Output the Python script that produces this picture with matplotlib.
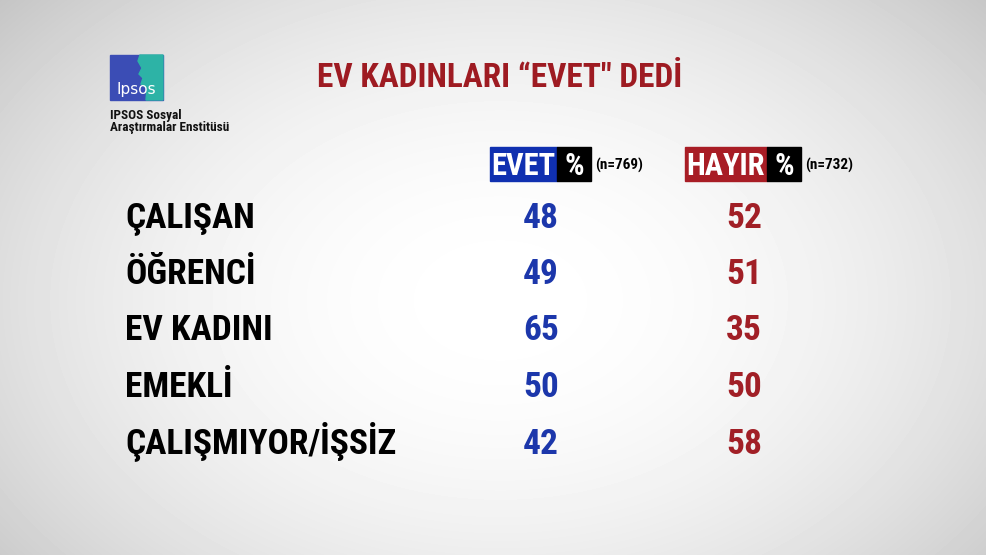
import numpy as np
import matplotlib
matplotlib.use("Agg")
import matplotlib.pyplot as plt
from matplotlib import font_manager as fm
from matplotlib.patches import Rectangle, Polygon

# ---- data ---------------------------------------------------------------
title      = "EV KADINLARI “EVET\" DEDİ"
categories = ["ÇALIŞAN", "ÖĞRENCİ", "EV KADINI", "EMEKLİ", "ÇALIŞMIYOR/İŞSİZ"]
evet       = [48, 49, 65, 50, 42]
hayir      = [52, 51, 35, 50, 58]
col_heads  = ["EVET", "HAYIR"]
col_n      = ["(n=769)", "(n=732)"]
logo_lines = ["IPSOS Sosyal", "Araştırmalar Enstitüsü"]

# ---- style --------------------------------------------------------------
names = set(fm.get_font_names())
FONT = next((f for f in ["Roboto Condensed", "Barlow Condensed",
                         "Archivo Narrow", "Liberation Sans Narrow"]
             if f in names), "DejaVu Sans")
FT = dict(family=[FONT, "DejaVu Sans"], fontweight="bold")

BLUE, RED   = "#1c37ab", "#a11f26"
BOX_BLUE    = "#1030b0"
BOX_RED     = "#a81d25"
TITLE_RED   = "#9e1b22"

W, H = 986, 555
fig = plt.figure(figsize=(W / 100, H / 100), dpi=100)
ax = fig.add_axes([0, 0, 1, 1])
ax.set_xlim(0, W); ax.set_ylim(H, 0); ax.axis("off")

# background: soft radial grey vignette
yy, xx = np.mgrid[0:H, 0:W]
r = np.sqrt(((xx - 500) / 620.0) ** 2 + ((yy - 300) / 430.0) ** 2)
bg = np.clip(1.0 - 0.2 * r ** 2, 0, 1)
ax.imshow(bg, cmap="gray", vmin=0, vmax=1, extent=(0, W, H, 0), zorder=0)

# ---- logo ---------------------------------------------------------------
ax.add_patch(Rectangle((110, 55), 53, 45, color="#3b4db5", zorder=1))
ax.add_patch(Polygon([(140, 55), (163, 55), (163, 100), (146, 100), (147, 88),
                      (141, 84), (143, 78), (139, 74), (142, 68), (138, 61)],
                     closed=True, color="#2db3a6", zorder=2))
ax.text(136, 94, "Ipsos", color="white", fontsize=11, family="DejaVu Sans",
        ha="center", va="baseline", zorder=3)
for i, line in enumerate(logo_lines):
    ax.text(110, 119 + 12 * i, line, fontsize=9.5, color="#111111",
            ha="left", va="baseline", **FT)

# ---- title --------------------------------------------------------------
ax.text(500, 87, title, fontsize=24, color=TITLE_RED, ha="center",
        va="baseline", **FT)

# ---- column headers -----------------------------------------------------
heads = [(490, 67, BOX_BLUE), (685, 82, BOX_RED)]
for (x0, wcol, c), lab, n in zip(heads, col_heads, col_n):
    ax.add_patch(Rectangle((x0, 147), wcol, 34, color=c, zorder=1))
    ax.add_patch(Rectangle((x0 + wcol, 147), 34, 34, color="black", zorder=1))
    ax.text(x0 + wcol / 2, 175, lab, fontsize=22, color="white",
            ha="center", va="baseline", **FT)
    ax.text(x0 + wcol + 17, 175, "%", fontsize=22, color="white",
            ha="center", va="baseline", **FT)
    ax.text(x0 + wcol + 38, 170, n, fontsize=11, color="black",
            ha="left", va="baseline", **FT)

# ---- rows ---------------------------------------------------------------
for i, (cat, e, h) in enumerate(zip(categories, evet, hayir)):
    yb = 227.5 + 56.5 * i
    ax.text(125, yb, cat, fontsize=25.5, color="black", ha="left",
            va="baseline", **FT)
    ax.text(541, yb, str(e), fontsize=25.5, color=BLUE, ha="center",
            va="baseline", **FT)
    ax.text(744, yb, str(h), fontsize=25.5, color=RED, ha="center",
            va="baseline", **FT)

fig.savefig("out.png", dpi=100)
